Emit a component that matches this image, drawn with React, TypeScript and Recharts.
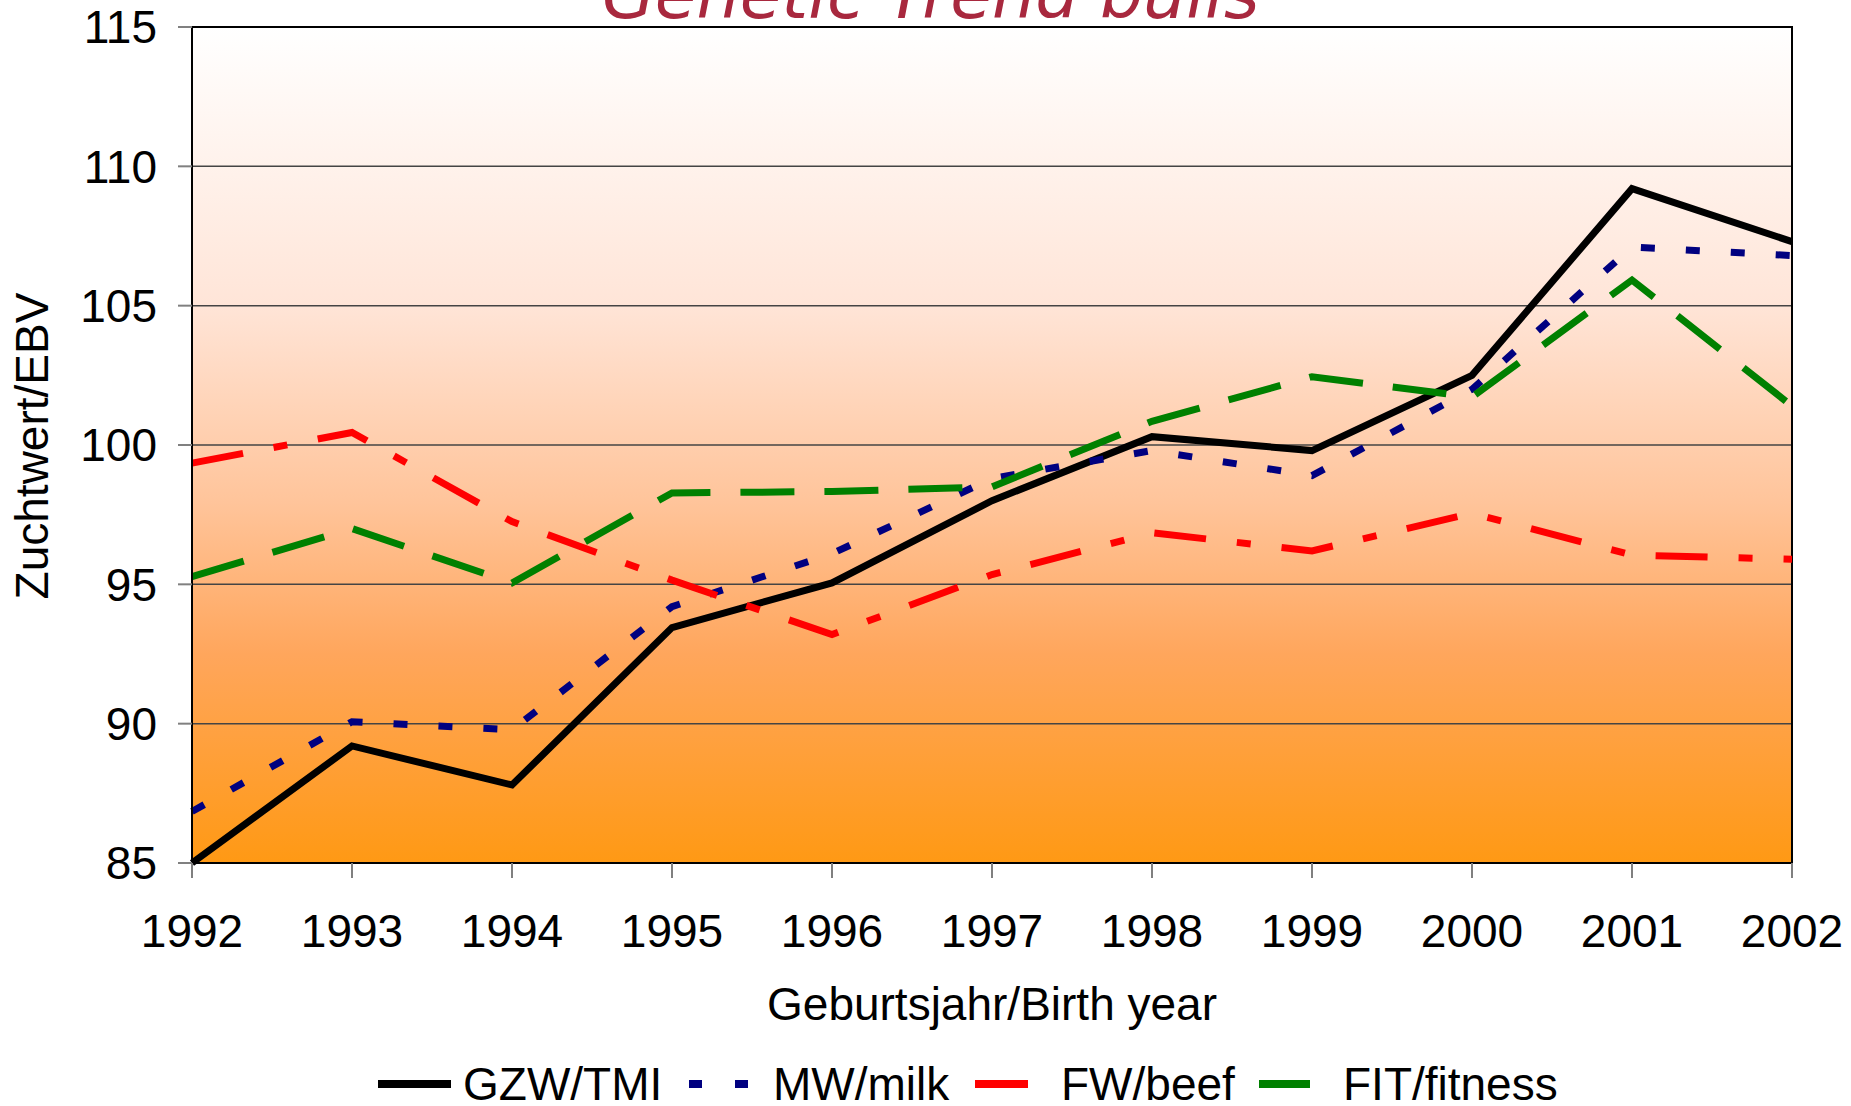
import {
  LineChart,
  Line,
  XAxis,
  YAxis,
  CartesianGrid,
  ReferenceArea,
} from "recharts";

// ─── Data ────────────────────────────────────────────────────────────────────

const years = ["1992", "1993", "1994", "1995", "1996", "1997", "1998", "1999", "2000", "2001", "2002"];
const gzwTmi = [85.0, 89.2, 87.8, 93.45, 95.05, 98.0, 100.3, 99.8, 102.5, 109.2, 107.3];
const mwMilk = [86.85, 90.07, 89.78, 94.2, 96.1, 98.8, 99.8, 98.9, 102.0, 107.1, 106.8];
const fwBeef = [99.35, 100.45, 97.25, 95.15, 93.2, 95.35, 96.85, 96.2, 97.55, 96.05, 95.9];
const fitFitness = [95.28, 97.0, 95.05, 98.28, 98.33, 98.5, 100.85, 102.45, 101.72, 105.92, 101.4];
const yTicks = [85, 90, 95, 100, 105, 110, 115];

const rows = years.map((year, i) => ({
  year,
  gzw: gzwTmi[i],
  mw: mwMilk[i],
  fw: fwBeef[i],
  fit: fitFitness[i],
}));

// ─── Styles ──────────────────────────────────────────────────────────────────

const FONT = '"Liberation Sans", Arial, sans-serif';
const W = 1851;
const H = 1106;

const series = [
  { key: "gzw", name: "GZW/TMI", color: "#000000", dash: undefined as string | undefined },
  { key: "mw", name: "MW/milk", color: "#000080", dash: "14 31" },
  { key: "fw", name: "FW/beef", color: "#FF0000", dash: "52 31 14 31" },
  { key: "fit", name: "FIT/fitness", color: "#008000", dash: "54 30" },
];

// legend swatch / label placement (px)
const legendLayout = [
  { x1: 378, x2: 451, tx: 463, dash: undefined as string | undefined },
  { x1: 689, x2: 749, tx: 773, dash: "13 33" },
  { x1: 975, x2: 1028, tx: 1061, dash: undefined },
  { x1: 1259, x2: 1310, tx: 1343, dash: undefined },
];

// ─── Component ───────────────────────────────────────────────────────────────

export default function App() {
  return (
    <div style={{ position: "absolute", left: 0, top: 0, width: W, height: H, background: "#fff" }}>
      <LineChart
        width={W}
        height={H}
        data={rows}
        margin={{ top: 27, right: 59, left: 0, bottom: 0 }}
      >
        <defs>
          <linearGradient id="plotBg" x1="0" y1="0" x2="0" y2="1">
            <stop offset="0" stopColor="#FFFFFF" />
            <stop offset="0.33" stopColor="#FFE5D8" />
            <stop offset="0.57" stopColor="#FFC49A" />
            <stop offset="0.75" stopColor="#FFA65C" />
            <stop offset="1" stopColor="#FF9914" />
          </linearGradient>
        </defs>
        <CartesianGrid
          vertical={false}
          stroke="#444444"
          strokeWidth={1.5}
          fill="url(#plotBg)"
          fillOpacity={1}
        />
        <XAxis
          dataKey="year"
          height={243}
          interval={0}
          tickSize={15}
          tickMargin={36}
          tick={{ fill: "#000", fontSize: 46, fontFamily: FONT }}
          tickLine={{ stroke: "#808080", strokeWidth: 2 }}
          axisLine={{ stroke: "#000", strokeWidth: 2 }}
        />
        <YAxis
          type="number"
          domain={[85, 115]}
          ticks={yTicks}
          interval={0}
          width={192}
          tickSize={14}
          tickMargin={21}
          tick={{ fill: "#000", fontSize: 46, fontFamily: FONT }}
          tickLine={{ stroke: "#808080", strokeWidth: 2 }}
          axisLine={{ stroke: "#000", strokeWidth: 2 }}
        />
        {series.map((s) => (
          <Line
            key={s.key}
            type="linear"
            dataKey={s.key}
            name={s.name}
            stroke={s.color}
            strokeWidth={7}
            strokeDasharray={s.dash}
            strokeLinecap="butt"
            dot={false}
            activeDot={false}
            isAnimationActive={false}
          />
        ))}
        <ReferenceArea
          x1="1992"
          x2="2002"
          y1={85}
          y2={115}
          fill="none"
          stroke="#000"
          strokeWidth={2}
          ifOverflow="visible"
        />
      </LineChart>

      {/* titles + legend */}
      <svg
        width={W}
        height={H}
        style={{ position: "absolute", left: 0, top: 0, pointerEvents: "none" }}
      >
        <text
          x={602}
          y={18}
          fill="#A8283E"
          fontSize={68}
          fontStyle="italic"
          fontFamily='"DejaVu Sans", sans-serif'
        >
          Genetic Trend bulls
        </text>
        <text
          x={992}
          y={1020}
          textAnchor="middle"
          fill="#000"
          fontSize={46}
          fontFamily={FONT}
        >
          Geburtsjahr/Birth year
        </text>
        <text
          transform="translate(48,446) rotate(-90)"
          textAnchor="middle"
          fill="#000"
          fontSize={46}
          fontFamily={FONT}
        >
          Zuchtwert/EBV
        </text>
        {series.map((s, i) => {
          const l = legendLayout[i];
          return (
            <g key={s.key}>
              <line
                x1={l.x1}
                x2={l.x2}
                y1={1084}
                y2={1084}
                stroke={s.color}
                strokeWidth={8}
                strokeDasharray={l.dash}
              />
              <text x={l.tx} y={1100} fill="#000" fontSize={46} fontFamily={FONT}>
                {s.name}
              </text>
            </g>
          );
        })}
      </svg>
    </div>
  );
}
